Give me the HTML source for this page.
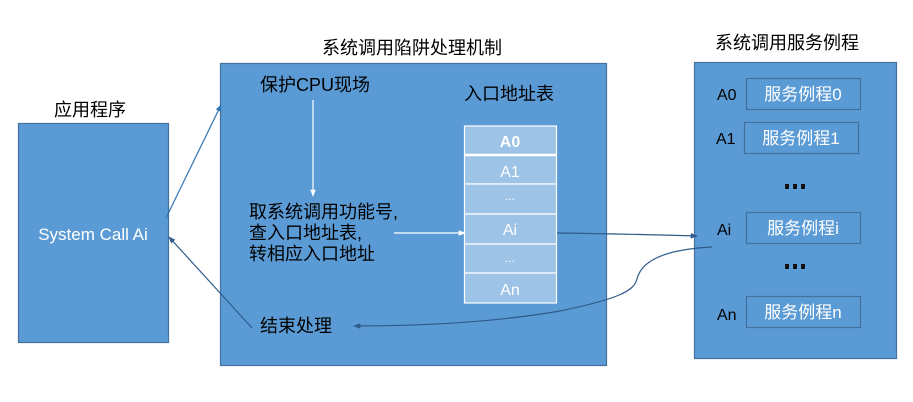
<!DOCTYPE html>
<html><head><meta charset="utf-8"><style>
html,body{margin:0;padding:0;background:#fff;width:913px;height:402px;overflow:hidden}
svg{display:block}
text{font-family:"Liberation Sans","Noto Sans CJK SC",sans-serif}
</style></head><body>
<svg width="913" height="402" viewBox="0 0 913 402" xmlns="http://www.w3.org/2000/svg">
<defs>
<marker id="ab" viewBox="0 0 10 10" refX="9" refY="5" markerWidth="7" markerHeight="7" orient="auto" markerUnits="userSpaceOnUse"><path d="M0,1 L10,5 L0,9 z" fill="#2e75b6"/></marker>
<marker id="ad" viewBox="0 0 10 10" refX="9" refY="5" markerWidth="7" markerHeight="7" orient="auto" markerUnits="userSpaceOnUse"><path d="M0,1 L10,5 L0,9 z" fill="#2f5a8a"/></marker>
<marker id="aw" viewBox="0 0 10 10" refX="9" refY="5" markerWidth="7" markerHeight="7" orient="auto" markerUnits="userSpaceOnUse"><path d="M0,1 L10,5 L0,9 z" fill="#ffffff"/></marker>
</defs>

<!-- Left box -->
<text x="90" y="116" font-size="18" text-anchor="middle" fill="#000">应用程序</text>
<rect x="18.5" y="123.5" width="150" height="219" fill="#5b9bd5" stroke="#41719c" stroke-width="1.2"/>
<text x="93" y="240" font-size="17" text-anchor="middle" fill="#fff">System Call Ai</text>

<!-- Middle box -->
<text x="412" y="54" font-size="18" text-anchor="middle" fill="#000">系统调用陷阱处理机制</text>
<rect x="220.5" y="63.5" width="386" height="302" fill="#5b9bd5" stroke="#41719c" stroke-width="1.2"/>
<text x="260" y="91" font-size="18" fill="#000">保护CPU现场</text>
<line x1="313" y1="100" x2="313" y2="196" stroke="#fff" stroke-width="1.2" marker-end="url(#aw)"/>
<text x="249" y="218" font-size="18" fill="#000">取系统调用功能号,</text>
<text x="249" y="239" font-size="18" fill="#000">查入口地址表,</text>
<text x="249" y="260" font-size="18" fill="#000">转相应入口地址</text>
<line x1="394" y1="233" x2="465" y2="233" stroke="#fff" stroke-width="1.2" marker-end="url(#aw)"/>
<text x="509" y="100" font-size="18" text-anchor="middle" fill="#000">入口地址表</text>

<!-- table -->
<g stroke="#fff" stroke-width="1.2" fill="#9dc3e6">
<rect x="464.5" y="126" width="92" height="29"/>
<rect x="464.5" y="155" width="92" height="29"/>
<rect x="464.5" y="184" width="92" height="30"/>
<rect x="464.5" y="214" width="92" height="30"/>
<rect x="464.5" y="244" width="92" height="29"/>
<rect x="464.5" y="273" width="92" height="30"/>
</g>
<line x1="464.5" y1="155" x2="556.5" y2="155" stroke="#fff" stroke-width="2.5"/>
<g fill="#fff" font-size="16" text-anchor="middle">
<text x="510" y="147" font-weight="bold">A0</text>
<text x="510" y="177">A1</text>
<text x="510" y="200" font-size="12">...</text>
<text x="510" y="235">Ai</text>
<text x="510" y="262" font-size="12">...</text>
<text x="510" y="295">An</text>
</g>
<text x="296" y="332" font-size="18" text-anchor="middle" fill="#000">结束处理</text>

<!-- Right box -->
<text x="787" y="49" font-size="18" text-anchor="middle" fill="#000">系统调用服务例程</text>
<rect x="694.5" y="62.5" width="202" height="296" fill="#5b9bd5" stroke="#41719c" stroke-width="1.2"/>
<g fill="none" stroke="#41719c" stroke-width="1.2">
<rect x="746.5" y="78.5" width="114" height="31"/>
<rect x="744.5" y="122.5" width="114" height="31"/>
<rect x="746.5" y="212.5" width="114" height="31"/>
<rect x="746.5" y="296.5" width="114" height="31"/>
</g>
<g fill="#fff" font-size="17" text-anchor="middle">
<text x="803" y="100">服务例程0</text>
<text x="801" y="144">服务例程1</text>
<text x="803" y="234">服务例程i</text>
<text x="803" y="318">服务例程n</text>
</g>
<g fill="#000" font-size="16">
<text x="717" y="100">A0</text>
<text x="716" y="144">A1</text>
<text x="717" y="235">Ai</text>
<text x="717" y="320">An</text>
</g>
<g fill="#111">
<rect x="785" y="184" width="4" height="5"/><rect x="793" y="184" width="4" height="5"/><rect x="801" y="184" width="4" height="5"/>
<rect x="785" y="264" width="4" height="5"/><rect x="793" y="264" width="4" height="5"/><rect x="801" y="264" width="4" height="5"/>
</g>

<!-- connectors -->
<line x1="166" y1="218" x2="221" y2="105" stroke="#2e75b6" stroke-width="1.2" marker-end="url(#ab)"/>
<line x1="252" y1="328" x2="169" y2="237" stroke="#2f5a8a" stroke-width="1.2" marker-end="url(#ad)"/>
<path d="M557,233 Q630,234 697,236" fill="none" stroke="#2f5a8a" stroke-width="1.2" marker-end="url(#ad)"/>
<path d="M712,247 C672,249 642,258 637,279 C634,291 618,299 560,311 C490,323 420,326 354,326" fill="none" stroke="#2f5a8a" stroke-width="1.2" marker-end="url(#ad)"/>
</svg>
</body></html>
